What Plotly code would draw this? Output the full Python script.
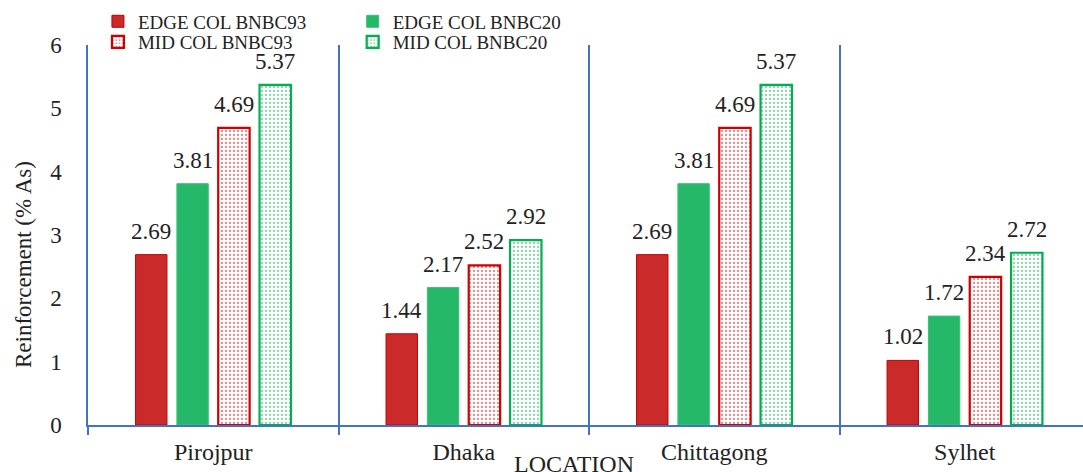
import plotly.graph_objects as go

categories = ["Pirojpur", "Dhaka", "Chittagong", "Sylhet"]
series_names = ["EDGE COL BNBC93", "EDGE COL BNBC20", "MID COL BNBC93", "MID COL BNBC20"]
edge_bnbc93 = [2.69, 1.44, 2.69, 1.02]
edge_bnbc20 = [3.81, 2.17, 3.81, 1.72]
mid_bnbc93 = [4.69, 2.52, 4.69, 2.34]
mid_bnbc20 = [5.37, 2.92, 5.37, 2.72]
y_ticks = [0, 1, 2, 3, 4, 5, 6]

series_values = [edge_bnbc93, edge_bnbc20, mid_bnbc93, mid_bnbc20]
fills = ["#CB2A2A", "#24B868", "white", "white"]
lines = ["#C00000", "#3CC07A", "#D00000", "#00B050"]
line_w = [1, 1, 2.2, 2.2]
patterns = [None, None, "#D01010", "#10B050"]

FONT = "Liberation Serif"
BLUE = "#4472C4"
TXT = "#222222"
BARGAP = 0.34
BARGROUPGAP = 0.24

fig = go.Figure()
legend_ids = ["legend2", "legend3", "legend4", "legend5"]
for j, (name, vals) in enumerate(zip(series_names, series_values)):
    marker = dict(color=fills[j], line=dict(color=lines[j], width=line_w[j]))
    if patterns[j]:
        marker["pattern"] = dict(shape=".", fgcolor=patterns[j], bgcolor="white",
                                 size=4, solidity=0.25, fillmode="overlay")
    fig.add_trace(go.Bar(x=categories, y=vals, name=name, marker=marker,
                         legend=legend_ids[j], showlegend=True))

# data labels
n = len(series_values)
slot = (1 - BARGAP) / n
for j, vals in enumerate(series_values):
    off = (j - (n - 1) / 2) * slot
    for i, v in enumerate(vals):
        fig.add_annotation(x=i + off, y=v, xref="x", yref="y", text=f"{v:.2f}",
                           showarrow=False, yanchor="bottom", yshift=9,
                           font=dict(family=FONT, size=23, color=TXT))

fig.add_annotation(x=0.488, y=-0.063, xref="paper", yref="paper", text="LOCATION",
                   showarrow=False, yanchor="top", xanchor="center",
                   font=dict(family=FONT, size=24, color=TXT))
fig.add_annotation(x=-0.0653, y=0.421, xref="paper", yref="paper",
                   text="Reinforcement (% As)", textangle=-90,
                   showarrow=False, xanchor="center", yanchor="middle",
                   font=dict(family=FONT, size=23, color=TXT))

leg_common = dict(font=dict(family=FONT, size=19, color=TXT), bgcolor="rgba(0,0,0,0)",
                  xanchor="left", yanchor="middle", itemwidth=30)
fig.update_layout(
    width=1083, height=472,
    margin=dict(l=88, r=0, t=45, b=47),
    paper_bgcolor="white", plot_bgcolor="white",
    showlegend=True,
    barmode="group", bargap=BARGAP, bargroupgap=BARGROUPGAP,
    font=dict(family=FONT, size=23, color=TXT),
    legend2=dict(x=0.01, y=1.062, **leg_common),
    legend3=dict(x=0.266, y=1.062, **leg_common),
    legend4=dict(x=0.01, y=1.008, **leg_common),
    legend5=dict(x=0.266, y=1.008, **leg_common),
    xaxis=dict(type="category", range=[-0.5, 3.472], tickson="boundaries",
               showgrid=True, gridcolor=BLUE, gridwidth=1.5,
               showline=True, linecolor=BLUE, linewidth=1.5,
               ticks="outside", ticklen=8, tickcolor=BLUE, tickwidth=1.5,
               tickfont=dict(family=FONT, size=24, color=TXT), ticklabelstandoff=4),
    yaxis=dict(range=[0, 6], tickvals=y_ticks, showgrid=False, zeroline=False,
               showline=True, linecolor=BLUE, linewidth=1.5,
               tickfont=dict(family=FONT, size=23, color=TXT), ticklabelstandoff=20),
)

fig.write_html("out.html")
